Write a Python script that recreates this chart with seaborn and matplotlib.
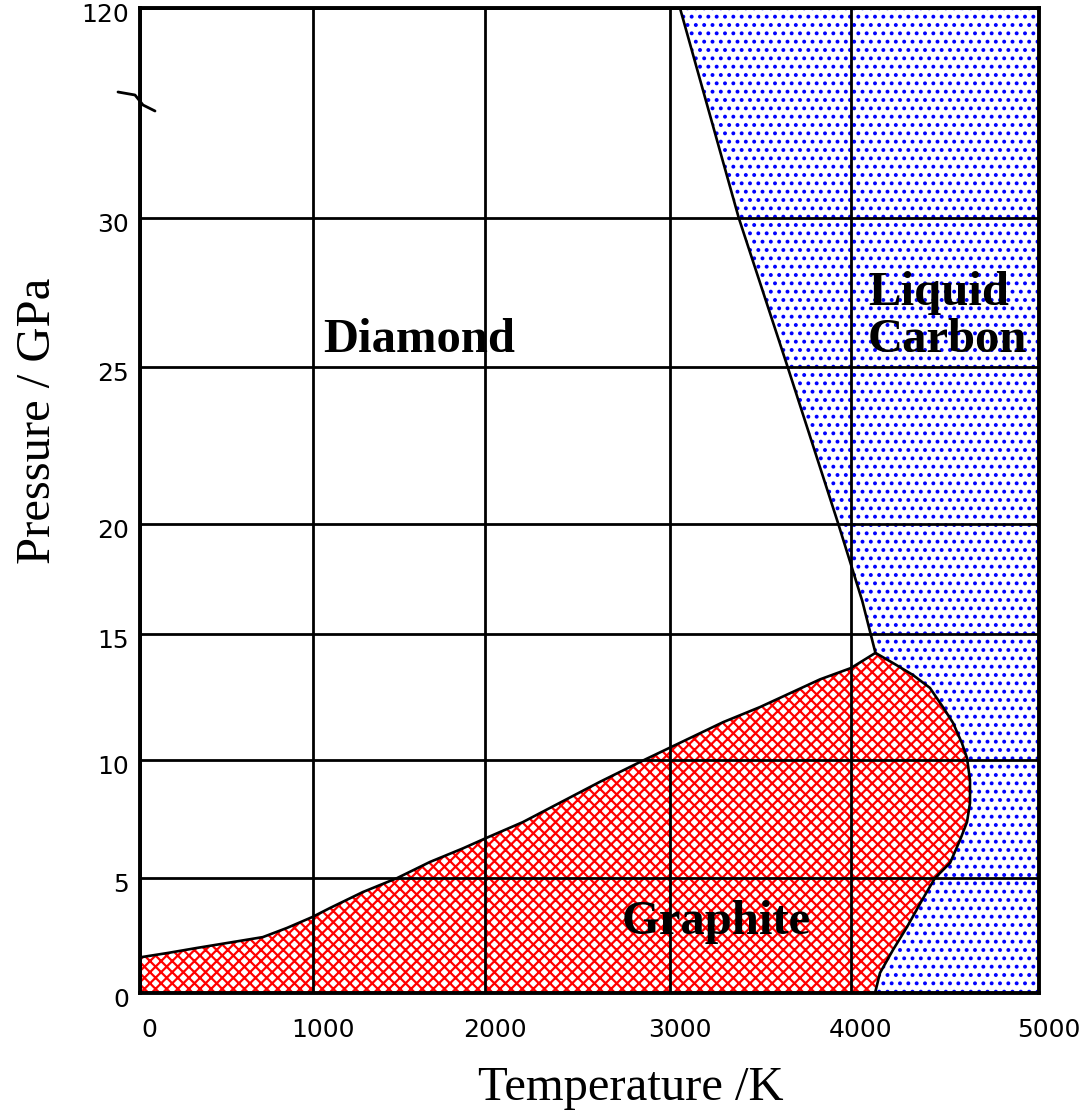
import numpy as np
import matplotlib
matplotlib.use("Agg")
import matplotlib.pyplot as plt
import matplotlib.transforms as mtransforms
import seaborn as sns
import pandas as pd

# ---------------- data ----------------
x_ticks = [0, 1000, 2000, 3000, 4000, 5000]
x_tick_labels = ["0", "1000", "2000", "3000", "4000", "5000"]
y_ticks = [0, 5, 10, 15, 20, 25, 30, 120]
y_tick_labels = ["0", "5", "10", "15", "20", "25", "30", "120"]

# graphite / diamond boundary (K, GPa)
gd_T = [0, 160, 330, 500, 710, 850, 995, 1100, 1290, 1490, 1680, 1870,
        2005, 2205, 2620, 2860, 3293, 3497, 3829, 4000, 4130]
gd_P = [1.55, 1.74, 1.96, 2.17, 2.43, 2.83, 3.3, 3.7, 4.39, 5.0, 5.68, 6.25,
        6.69, 7.37, 9.07, 10.0, 11.5, 12.1, 13.2, 13.65, 14.25]
# graphite / liquid boundary
gl_T = [4130, 4223, 4330, 4420, 4489, 4543, 4590, 4617, 4633, 4633, 4617,
        4580, 4527, 4447, 4378, 4298, 4223, 4154, 4128]
gl_P = [14.25, 13.85, 13.37, 12.86, 12.1, 11.47, 10.67, 10.08, 9.15, 8.18,
        7.37, 6.61, 5.64, 5.0, 4.04, 2.87, 1.87, 0.87, 0.0]
# diamond / liquid boundary
dl_T = [4130, 4060, 3930, 3650, 3380, 3055]
dl_P = [14.25, 16.5, 20.0, 25.0, 30.0, 120.0]

# piecewise-linear axis layout (relative screen spacing of the tick values)
x_screen = [0, 173, 345, 530, 711, 899]
y_screen = [0, 115, 233, 359, 469, 626, 775, 985]

# ---------------- style ----------------
sns.set_theme(style="white")
plt.rcParams["font.family"] = ["DejaVu Sans"]

W, H, DPI = 1083, 1117, 100
fig = plt.figure(figsize=(W / DPI, H / DPI), dpi=DPI)
ax = fig.add_axes([140 / W, 1 - 993 / H, 899 / W, 985 / H])


def fx(v):
    return np.interp(v, x_ticks, x_screen)


def ix(v):
    return np.interp(v, x_screen, x_ticks)


def fy(v):
    return np.interp(v, y_ticks, y_screen)


def iy(v):
    return np.interp(v, y_screen, y_ticks)


ax.set_xscale("function", functions=(fx, ix))
ax.set_yscale("function", functions=(fy, iy))

# ---------------- regions ----------------
plt.rcParams["hatch.linewidth"] = 1.6
graphite_T = [0] + gd_T + gl_T[1:]
graphite_P = [0] + gd_P + gl_P[1:]
ax.fill(graphite_T, graphite_P, facecolor="white", edgecolor="#ff0000",
        hatch="xxx", linewidth=0, zorder=1)

plt.rcParams["hatch.linewidth"] = 1.6
liquid_T = [x_ticks[-1]] + gl_T[::-1] + dl_T[1:] + [x_ticks[-1]]
liquid_P = [0] + gl_P[::-1] + dl_P[1:] + [y_ticks[-1]]
ax.fill(liquid_T, liquid_P, facecolor="white", edgecolor="#0000ff",
        hatch="..", linewidth=0, zorder=1)

# ---------------- boundaries ----------------
for T, P in [(gd_T, gd_P), (gl_T, gl_P), (dl_T, dl_P)]:
    df = pd.DataFrame({"T": T, "P": P})
    sns.lineplot(data=df, x="T", y="P", sort=False, estimator=None,
                 color="black", linewidth=1.9, ax=ax, zorder=3)

ax.set_xlim(0, 5000)
ax.set_ylim(0, 120)
ax.set_xticks(x_ticks)
ax.set_xticklabels(x_tick_labels)
ax.set_yticks(y_ticks)
ax.set_yticklabels(y_tick_labels)
ax.minorticks_off()

ax.set_axisbelow(False)
ax.grid(True, color="black", linewidth=2.0, zorder=2)
for s in ax.spines.values():
    s.set_color("black")
    s.set_linewidth(2.8)
    s.set_zorder(4)

ax.tick_params(axis="both", length=0, labelsize=18, colors="black")
ax.tick_params(axis="x", pad=18)
ax.tick_params(axis="y", pad=8)

offx = mtransforms.ScaledTranslation(7 / 72, 0, fig.dpi_scale_trans)
for lab in ax.get_xticklabels():
    lab.set_transform(lab.get_transform() + offx)
offy = mtransforms.ScaledTranslation(0, -3 / 72, fig.dpi_scale_trans)
for lab in ax.get_yticklabels():
    lab.set_transform(lab.get_transform() + offy)

ax.set_xlabel("Temperature /K", family="Liberation Serif", fontsize=35,
              color="black")
ax.set_ylabel("Pressure / GPa", family="Liberation Serif", fontsize=35,
              color="black")
ax.xaxis.set_label_coords((631 - 140) / 899, -(1066 - 993) / 985)
ax.yaxis.set_label_coords((60 - 140) / 899, (993 - 421) / 985)

# ---------------- region labels ----------------
lab_kw = dict(family="Liberation Serif", fontweight="bold", fontsize=35,
              color="black", zorder=5)
ax.text(1060, 25.9, "Diamond", ha="left", va="center", **lab_kw)
ax.text(4090, 26.7, "Liquid\nCarbon", ha="left", va="center",
        linespacing=1.1, **lab_kw)
ax.text(2740, 3.1, "Graphite", ha="left", va="center", **lab_kw)

# axis-break mark on the pressure axis
bx = [(118 - 140) / 899, (135 - 140) / 899, (143 - 140) / 899, (155 - 140) / 899]
by = [(993 - 92) / 985, (993 - 95) / 985, (993 - 105) / 985, (993 - 111) / 985]
ax.plot(bx, by, transform=ax.transAxes, color="black", lw=2, clip_on=False,
        zorder=6)

fig.savefig("out.png", dpi=DPI)
